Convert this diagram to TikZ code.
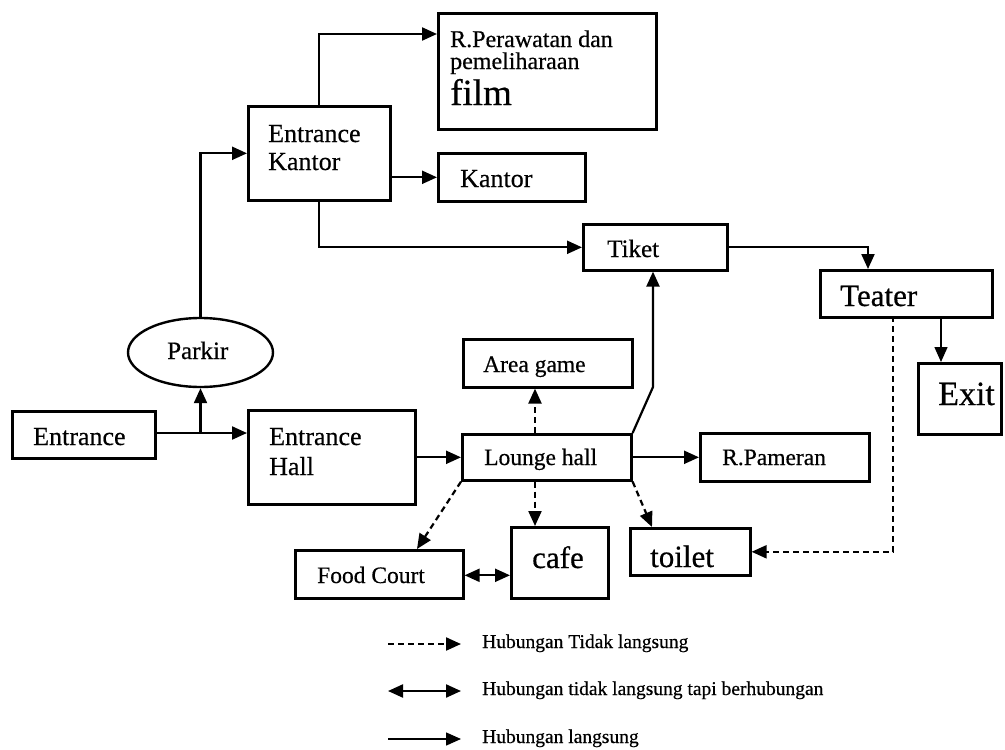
\documentclass[tikz,border=0pt]{standalone}
\usepackage{fontspec}
\setmainfont{Liberation Serif}[FakeBold=0.5]
\usetikzlibrary{arrows.meta,shapes.geometric}
\tikzset{
  box/.style={draw, line width=2.6pt, rectangle, inner sep=0pt, anchor=north west},
  txt/.style={inner sep=0pt, anchor=base west},
  link/.style={line width=2.2pt, -{Triangle[length=15pt,width=13pt]}},
  dlink/.style={link, dash pattern=on 6pt off 4pt},
  twoway/.style={line width=2.2pt, {Triangle[length=15pt,width=13pt]}-{Triangle[length=15pt,width=13pt]}},
}
\newcommand{\setsz}[1]{\fontsize{#1}{#1}\selectfont}
\begin{document}
\begin{tikzpicture}[x=1pt,y=-1pt]
\fill[white] (0,0) rectangle (1005,750);
\useasboundingbox (0,0) rectangle (1005,750);

% ---- boxes ----
\node[box, minimum width=143pt, minimum height=47pt] (entr) at (11,410) {};
\node[draw, ellipse, line width=2.4pt, inner sep=0pt, minimum width=145pt, minimum height=69pt] (parkir) at (200.5,352.5) {};
\node[box, minimum width=167pt, minimum height=94pt] (ehall) at (247,409) {};
\node[box, minimum width=142pt, minimum height=94pt] (ekantor) at (247,105) {};
\node[box, minimum width=218pt, minimum height=116pt] (rperaw) at (437,12) {};
\node[box, minimum width=147pt, minimum height=48pt] (kantor) at (437,152) {};
\node[box, minimum width=144pt, minimum height=46pt] (tiket) at (582,223) {};
\node[box, minimum width=172pt, minimum height=47pt] (teater) at (819,269) {};
\node[box, minimum width=83pt, minimum height=71pt] (exit) at (917,362) {};
\node[box, minimum width=169pt, minimum height=48pt] (areagame) at (462,338) {};
\node[box, minimum width=169pt, minimum height=46pt] (lounge) at (461,433) {};
\node[box, minimum width=169pt, minimum height=48pt] (rpameran) at (699,432) {};
\node[box, minimum width=168pt, minimum height=48pt] (foodcourt) at (294,549) {};
\node[box, minimum width=97pt, minimum height=71pt] (cafe) at (510,526) {};
\node[box, minimum width=120pt, minimum height=47pt] (toilet) at (629,527) {};

% ---- labels ----
\node[txt, font=\setsz{26}] (entr-t) at (33,445) {Entrance};
\node[txt, font=\setsz{25}] (parkir-t) at (167,359) {Parkir};
\node[txt, font=\setsz{26}] (ehall-t1) at (269,445) {Entrance};
\node[txt, font=\setsz{26}] (ehall-t2) at (269,475) {Hall};
\node[txt, font=\setsz{26}] (ekantor-t1) at (268,142) {Entrance};
\node[txt, font=\setsz{26}] (ekantor-t2) at (268,170) {Kantor};
\node[txt, font=\setsz{24}] (rperaw-t1) at (450,47) {R.Perawatan dan};
\node[txt, font=\setsz{24}] (rperaw-t2) at (450,69) {pemeliharaan};
\node[txt, font=\setsz{37}] (rperaw-t3) at (450,105) {film};
\node[txt, font=\setsz{26}] (kantor-t) at (460,187) {Kantor};
\node[txt, font=\setsz{25}] (tiket-t) at (607,257) {Tiket};
\node[txt, font=\setsz{31}] (teater-t) at (840,306) {Teater};
\node[txt, font=\setsz{34}] (exit-t) at (938,405) {Exit};
\node[txt, font=\setsz{23.5}] (areagame-t) at (483,372) {Area game};
\node[txt, font=\setsz{23.5}] (lounge-t) at (484,465) {Lounge hall};
\node[txt, font=\setsz{23.5}] (rpameran-t) at (722,465) {R.Pameran};
\node[txt, font=\setsz{23.5}] (foodcourt-t) at (317,583) {Food Court};
\node[txt, font=\setsz{31}] (cafe-t) at (532,568) {cafe};
\node[txt, font=\setsz{31}] (toilet-t) at (650,567) {toilet};

% ---- connection points ----
\coordinate (fork) at (200.5,433);
\coordinate (rpin) at (437,34);
\coordinate (tin) at (868,269);
\coordinate (xin) at (941,362);
\coordinate (tout) at (893,316);
\coordinate (bend) at (653,387);
\coordinate (lx) at (535,0);
\coordinate (fcin) at (417,549);
\coordinate (tlin) at (652,527);

% ---- direct links ----
\draw[link] (entr.east |- fork) -- (fork -| ehall.west);
\draw[link] (fork) -- (parkir.south);
\draw[link] (parkir.north) |- (ekantor.west);
\draw[link] (ekantor.north) |- (rpin);
\draw[link] (ekantor.east |- kantor.west) -- (kantor.west);
\draw[link] (ekantor.south) |- (tiket.west);
\draw[link] (tiket.east) -| (tin);
\draw[link, line width=1.5pt] (xin |- teater.south) -- (xin);
\draw[link] (ehall.east |- lounge.west) -- (lounge.west);
\draw[link] (lounge.east) -- (lounge.east -| rpameran.west);
\draw[link] (lounge.north east) -- (bend) -- (bend |- tiket.south);

% ---- indirect links ----
\draw[dlink] (lounge.north -| lx) -- (areagame.south -| lx);
\draw[dlink] (lounge.south -| lx) -- (cafe.north -| lx);
\draw[dlink] (lounge.south west) -- (fcin);
\draw[dlink] (lounge.south east) -- (tlin);
\draw[dlink] (tout) |- (toilet.east);
\draw[twoway] ([yshift=-1pt]foodcourt.east) -- ([yshift=-1pt]foodcourt.east -| cafe.west);

% ---- legend ----
\coordinate (l1a) at (388,644); \coordinate (l1b) at (461,644);
\coordinate (l2a) at (388,691); \coordinate (l2b) at (461,691);
\coordinate (l3a) at (388,739); \coordinate (l3b) at (461,739);
\draw[dlink] (l1a) -- (l1b);
\draw[twoway] (l2a) -- (l2b);
\draw[link, line width=1.5pt] (l3a) -- (l3b);
\node[txt, font=\setsz{19.5}] (leg1) at (482,648) {Hubungan Tidak langsung};
\node[txt, font=\setsz{19.5}] (leg2) at (482,695) {Hubungan tidak langsung tapi berhubungan};
\node[txt, font=\setsz{19.5}] (leg3) at (482,743) {Hubungan langsung};
\end{tikzpicture}
\end{document}
